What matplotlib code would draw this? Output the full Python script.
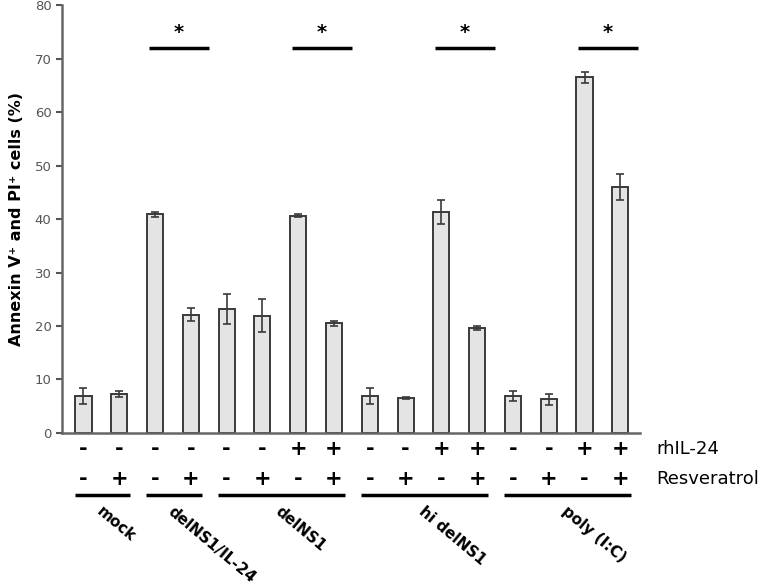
import numpy as np
import matplotlib
matplotlib.use('Agg')
import matplotlib.pyplot as plt

# Annexin V+/PI+ cells (%) per condition
values = [7.0, 7.3, 40.9, 22.1, 23.1, 21.9, 40.6, 20.5,
          7.0, 6.6, 41.3, 19.6, 6.9, 6.3, 66.5, 46.0]
errors = [1.5, 0.5, 0.5, 1.2, 2.8, 3.1, 0.3, 0.5,
          1.5, 0.2, 2.2, 0.4, 1.0, 1.0, 1.0, 2.5]
rhil24 = ['-', '-', '-', '-', '-', '-', '+', '+',
          '-', '-', '+', '+', '-', '-', '+', '+']
resveratrol = ['-', '+', '-', '+', '-', '+', '-', '+',
               '-', '+', '-', '+', '-', '+', '-', '+']
groups = ['mock', 'delNS1/IL-24', 'delNS1', 'hi delNS1', 'poly (I:C)']
group_spans = [(0, 1), (2, 3), (4, 7), (8, 11), (12, 15)]
sig_pairs = [(2, 3), (6, 7), (10, 11), (14, 15)]
sig_height = 72

x = np.arange(len(values))

fig = plt.figure(figsize=(7.79, 5.87), dpi=100)
ax = fig.add_axes([0.0796, 0.2624, 0.742, 0.729])

ax.bar(x, values, width=0.45, color='#e4e4e4', edgecolor='#3a3a3a', linewidth=1.4)
ax.errorbar(x, values, yerr=errors, fmt='none', ecolor='#3a3a3a',
            elinewidth=1.2, capsize=3, capthick=1.2)

ax.set_xlim(-0.6, 15.55)
ax.set_ylim(0, 80)
ax.set_yticks(range(0, 81, 10))
ax.tick_params(axis='y', colors='#555555', labelsize=9.5, length=4, width=1.5)
ax.tick_params(axis='x', bottom=False, labelbottom=False)
for s in ['top', 'right']:
    ax.spines[s].set_visible(False)
for s in ['left', 'bottom']:
    ax.spines[s].set_color('#666666')
    ax.spines[s].set_linewidth(1.8)
ax.set_ylabel('Annexin V⁺ and PI⁺ cells (%)', fontsize=11.5, fontweight='bold', labelpad=8)

# significance bars
for a, b in sig_pairs:
    ax.plot([a - 0.17, b + 0.5], [sig_height, sig_height], color='black', lw=2.5, solid_capstyle='butt')
    ax.text((a + b) / 2 + 0.15, sig_height + 1.0, '*', ha='center', va='bottom',
            fontsize=14, fontweight='bold')

# table below the axis
tr = ax.get_xaxis_transform()
for i in x:
    ax.text(i, -0.037, rhil24[i], transform=tr, ha='center', va='center',
            fontsize=15, fontweight='bold', clip_on=False)
    ax.text(i, -0.107, resveratrol[i], transform=tr, ha='center', va='center',
            fontsize=15, fontweight='bold', clip_on=False)
ax.text(16.0, -0.037, 'rhIL-24', transform=tr, ha='left', va='center', fontsize=13, clip_on=False)
ax.text(16.0, -0.107, 'Resveratrol', transform=tr, ha='left', va='center', fontsize=13, clip_on=False)

for name, (a, b) in zip(groups, group_spans):
    ax.plot([a - 0.25, b + 0.3], [-0.145, -0.145], transform=tr, color='black',
            lw=2.5, clip_on=False, solid_capstyle='butt')
    ax.text((a + b) / 2 + 0.05, -0.165, name, transform=tr, ha='left', va='top',
            rotation=-40, rotation_mode='anchor', fontsize=11, fontweight='bold',
            clip_on=False)

fig.savefig('out.png', dpi=100)
